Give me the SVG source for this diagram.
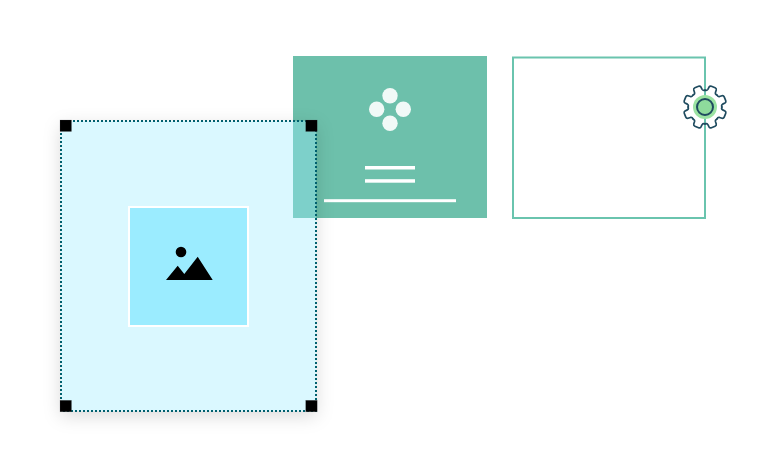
<svg xmlns="http://www.w3.org/2000/svg" width="768" height="476" viewBox="0 0 768 476">
  <defs>
    <filter id="outerShadow" x="-25%" y="-25%" width="150%" height="150%" color-interpolation-filters="sRGB">
      <feGaussianBlur in="SourceAlpha" stdDeviation="9"/>
      <feOffset dx="0" dy="5" result="b"/>
      <feFlood flood-color="#000" flood-opacity="0.15"/>
      <feComposite in2="b" operator="in" result="s"/>
      <feComposite in="s" in2="SourceAlpha" operator="out"/>
    </filter>
    <path id="tooth" d="M-6.5-15.6Q-4.4-15.6-4.1-17.4L-3.9-20Q-3.6-21.6-2-21.6H2Q3.6-21.6 3.9-20L4.1-17.4Q4.4-15.6 6.5-15.6"/>
    <rect id="handle" width="11.5" height="11.5" fill="#000" stroke="#5c6466" stroke-opacity=".35" stroke-width=".5"/>
  </defs>
  <style>
    .white-bar{fill:#fff}
    .petal{fill:#fff;fill-opacity:.9}
    .teeth{fill:none;stroke:#1f4b5f;stroke-width:1.7;stroke-linejoin:round;stroke-linecap:round}
  </style>
  <rect width="768" height="476" fill="#fff"/>
  <g id="card-green">
    <rect x="293" y="56" width="194" height="162" fill="#6dc0ab"/>
    <circle class="petal" cx="390" cy="95.7" r="7.7"/>
    <circle class="petal" cx="376.7" cy="109.3" r="7.7"/>
    <circle class="petal" cx="403.3" cy="109.3" r="7.7"/>
    <circle class="petal" cx="390" cy="123.3" r="7.7"/>
    <rect class="white-bar" x="365" y="166" width="50" height="3.5"/>
    <rect class="white-bar" x="365" y="179.2" width="50" height="3.5"/>
    <rect class="white-bar" x="324" y="199.2" width="132" height="3"/>
  </g>
  <g id="card-outline">
    <rect x="513" y="57.5" width="192" height="160.5" fill="#fff" stroke="#6ac4ae" stroke-width="2"/>
  </g>
  <g id="gear">
    <circle cx="705" cy="107" r="12" fill="#9be3a3"/>
    <circle cx="705" cy="107" r="8" fill="#8edb9c" stroke="#1f4b5f" stroke-width="2"/>
    <g class="teeth" transform="translate(705 107)">
      <use href="#tooth" transform="rotate(22.5)"/>
      <use href="#tooth" transform="rotate(67.5)"/>
      <use href="#tooth" transform="rotate(112.5)"/>
      <use href="#tooth" transform="rotate(157.5)"/>
      <use href="#tooth" transform="rotate(202.5)"/>
      <use href="#tooth" transform="rotate(247.5)"/>
      <use href="#tooth" transform="rotate(292.5)"/>
      <use href="#tooth" transform="rotate(337.5)"/>
    </g>
  </g>
  <g id="image-frame">
    <rect x="61" y="121" width="255" height="290" fill="#000" filter="url(#outerShadow)"/>
    <rect x="61" y="121" width="255" height="290" fill="#9becff" fill-opacity=".37" stroke="#00606e" stroke-width="2" stroke-dasharray="2 2"/>
    <rect x="129" y="207" width="119" height="119" fill="#9becff" stroke="#fff" stroke-width="2"/>
    <circle cx="181" cy="252" r="5.3" fill="#000"/>
    <path d="M166 280L177.7 265.7 184.3 274 197.7 256.7 212.7 280Z" fill="#000"/>
    <use href="#handle" x="60" y="120"/>
    <use href="#handle" x="305.7" y="120"/>
    <use href="#handle" x="60" y="400.3"/>
    <use href="#handle" x="305.7" y="400.3"/>
  </g>
</svg>
